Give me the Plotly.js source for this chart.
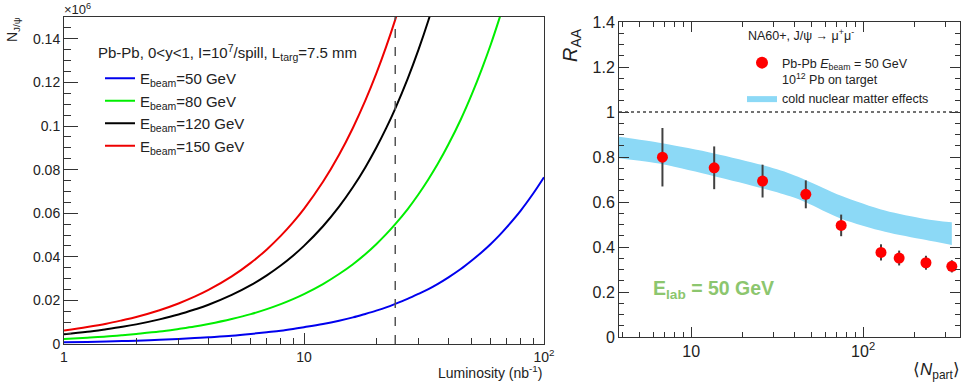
<!DOCTYPE html>
<html>
<head>
<meta charset="utf-8">
<script src="https://cdn.plot.ly/plotly-3.0.1.min.js"></script>
<style>html,body{margin:0;padding:0;background:#fff;}#chart{width:962px;height:387px;}</style>
</head>
<body>
<div id="chart"></div>
<script>
// ---------- Left panel data: N(J/psi) vs luminosity ----------
const lumi50  = [1,1.25,1.5,1.75,2,2.5,3,3.5,4,5,6,7,8,9,10,12,14,16,18,20,22,24,27,30,33,36,40,45,50,55,60,65,70,80,90,100];
const njpsi50 = [0.00077,0.00096,0.00115,0.00134,0.00153,0.0019,0.0023,0.0027,0.0031,0.0038,0.0046,0.0054,0.0061,0.0069,0.0077,0.0092,0.0107,0.0122,0.0138,0.0153,0.0168,0.0184,0.0207,0.023,0.0252,0.0275,0.0306,0.0344,0.0383,0.0421,0.0459,0.0497,0.0536,0.0612,0.0689,0.0765];
const lumi80  = [1,1.25,1.5,1.75,2,2.5,3,3.5,4,5,6,7,8,9,10,12,14,16,18,20,22,24,27,30,33,36,40,45,50,55,60,65,70];
const njpsi80 = [0.0023,0.0029,0.0034,0.004,0.0046,0.0057,0.0069,0.008,0.0092,0.0115,0.0137,0.016,0.0183,0.0206,0.0229,0.0275,0.0321,0.0366,0.0412,0.0458,0.0504,0.055,0.0618,0.0687,0.0756,0.0824,0.0916,0.103,0.1145,0.126,0.1374,0.1489,0.1603];
const lumi120  = [1,1.25,1.5,1.75,2,2.5,3,3.5,4,5,6,7,8,9,10,12,14,16,18,20,22,24,27,30,33,36];
const njpsi120 = [0.0045,0.0056,0.0068,0.0079,0.009,0.0113,0.0135,0.0158,0.018,0.0225,0.027,0.0315,0.036,0.0405,0.045,0.054,0.063,0.072,0.081,0.09,0.099,0.108,0.1215,0.135,0.1485,0.162];
const lumi150  = [1,1.25,1.5,1.75,2,2.5,3,3.5,4,5,6,7,8,9,10,12,14,16,18,20,22,24,27];
const njpsi150 = [0.0062,0.0078,0.0093,0.0109,0.0124,0.0155,0.0186,0.0217,0.0248,0.031,0.0372,0.0434,0.0496,0.0558,0.062,0.0744,0.0868,0.0992,0.1116,0.124,0.1364,0.1488,0.1674];
const beamNames = ['E<sub>beam</sub>=50 GeV','E<sub>beam</sub>=80 GeV','E<sub>beam</sub>=120 GeV','E<sub>beam</sub>=150 GeV'];
const leftHeader = 'Pb-Pb, 0&lt;y&lt;1, I=10<sup>7</sup>/spill, L<sub>targ</sub>=7.5 mm';
const refLumi = 24;
const leftXTickVals = [1,10,100];
const leftXTickText = ['1','10','10<sup>2</sup>'];
const leftXMinorVals = [2,3,4,5,6,7,8,9,20,30,40,50,60,70,80,90];

// ---------- Right panel data: R_AA vs Npart ----------
const npart   = [6.8,13.6,26,46.4,74.5,127,162,232,328];
const raa     = [0.799,0.752,0.693,0.634,0.496,0.376,0.351,0.330,0.314];
const raaErr  = [0.13,0.095,0.073,0.062,0.048,0.036,0.033,0.031,0.027];
const bandN     = [3.8,6.8,13.6,26,37.6,46.6,74.5,134,229,328];
const bandUpper = [0.89,0.861,0.816,0.764,0.726,0.697,0.628,0.562,0.525,0.51];
const bandLower = [0.794,0.768,0.715,0.661,0.625,0.598,0.526,0.468,0.432,0.409];
const rightHeader = 'NA60+, J/ψ → μ<sup>+</sup>μ<sup>-</sup>';
const pointsName = 'Pb-Pb <i>E</i><sub>beam</sub> = 50 GeV<br>10<sup>12</sup> Pb on target';
const bandName = 'cold nuclear matter effects';
const unityLevel = 1;
const rightXTickVals = [10,100];
const rightXTickText = ['10','10<sup>2</sup>'];
const rightXMinorVals = [4,5,6,7,8,9,20,30,40,50,60,70,80,90,200,300];

const W = 962, H = 387;
const px = v => v / W;
const py = v => 1 - v / H;
const FONT = 'Liberation Sans, Arial, Helvetica, sans-serif';

const curveColors = ['#0000ee','#00ee00','#000000','#ee0000'];
const lumiSets = [lumi50, lumi80, lumi120, lumi150];
const nSets = [njpsi50, njpsi80, njpsi120, njpsi150];

const traces = [];
for (let i = 0; i < 4; i++) {
  traces.push({
    x: lumiSets[i], y: nSets[i], xaxis: 'x', yaxis: 'y', type: 'scatter', mode: 'lines',
    line: {color: curveColors[i], width: 2, shape: 'spline'}, name: beamNames[i], legend: 'legend'
  });
}
traces.push({
  x: [refLumi, refLumi], y: [0, 0.15], xaxis: 'x', yaxis: 'y', mode: 'lines',
  line: {color: '#555', width: 1.5, dash: 'dash'}, showlegend: false, hoverinfo: 'skip'
});

// right panel
traces.push({x: [null], y: [null], xaxis: 'x2', yaxis: 'y2', mode: 'markers', marker: {color: '#ff0000', size: 10},
  name: pointsName, legend: 'legend2'});
traces.push({x: bandN, y: bandLower, xaxis: 'x2', yaxis: 'y2', mode: 'lines', line: {width: 0, color: '#8cd9f6', shape: 'spline', smoothing: 0.8}, showlegend: false, hoverinfo: 'skip'});
traces.push({x: bandN, y: bandUpper, xaxis: 'x2', yaxis: 'y2', mode: 'lines', fill: 'tonexty', fillcolor: '#8cd9f6', line: {width: 0, color: '#8cd9f6', shape: 'spline', smoothing: 0.8}, name: bandName, legend: 'legend2'});
traces.push({x: npart, y: raa, xaxis: 'x2', yaxis: 'y2', mode: 'markers', marker: {color: '#ff0000', size: 11},
  error_y: {type: 'data', array: raaErr, visible: true, thickness: 2, width: 0, color: '#404040'}, showlegend: false});

const axCommon = {showgrid: false, zeroline: false, showline: true, linecolor: '#333', linewidth: 1, ticks: 'inside', tickcolor: '#333', tickfont: {family: FONT, size: 14, color: '#222'}};

const layout = {
  width: W, height: H, margin: {l: 0, r: 0, t: 0, b: 0}, paper_bgcolor: '#fff', plot_bgcolor: '#fff',
  font: {family: FONT, color: '#222'},
  xaxis: Object.assign({}, axCommon, {domain: [px(64), px(544)], anchor: 'y', type: 'log', range: [0, 2], tickmode: 'array', tickvals: leftXTickVals, ticktext: leftXTickText, ticklen: 11, mirror: true,
    minor: {tickmode: 'array', tickvals: leftXMinorVals, ticks: 'inside', ticklen: 6, tickcolor: '#333'}}),
  yaxis: Object.assign({}, axCommon, {domain: [1 - 344/H, 1 - 17/H], anchor: 'x', range: [0, 0.15], dtick: 0.02, tick0: 0, ticklen: 14, mirror: true,
    minor: {dtick: 0.005, ticks: 'inside', ticklen: 7, tickcolor: '#333'}}),
  xaxis2: Object.assign({}, axCommon, {domain: [px(619), px(960)], anchor: 'y2', type: 'log', range: [Math.log10(3.8), Math.log10(366)], tickmode: 'array', tickvals: rightXTickVals, ticktext: rightXTickText, ticklen: 10, mirror: 'allticks', tickfont: {family: FONT, size: 16, color: '#222'},
    minor: {tickmode: 'array', tickvals: rightXMinorVals, ticks: 'inside', ticklen: 5, tickcolor: '#333'}}),
  yaxis2: Object.assign({}, axCommon, {domain: [1 - 337/H, 1 - 22/H], anchor: 'x2', range: [0, 1.4], dtick: 0.2, tick0: 0, ticklen: 10, mirror: 'allticks', tickfont: {family: FONT, size: 16, color: '#222'},
    minor: {dtick: 0.05, ticks: 'inside', ticklen: 5, tickcolor: '#333'}}),
  legend: {x: px(100), y: py(62), xanchor: 'left', yanchor: 'top', bgcolor: 'rgba(0,0,0,0)', borderwidth: 0,
    font: {family: FONT, size: 15, color: '#222'}, tracegroupgap: 0},
  legend2: {x: px(742), y: py(48), xanchor: 'left', yanchor: 'top', bgcolor: 'rgba(0,0,0,0)', borderwidth: 0, valign: 'top', itemsizing: 'constant', traceorder: 'normal',
    font: {family: FONT, size: 12.5, color: '#222'}, tracegroupgap: 0},
  shapes: [
    {type: 'line', xref: 'x2 domain', x0: 0, x1: 1, yref: 'y2', y0: unityLevel, y1: unityLevel, line: {color: '#444', width: 1.5, dash: 'dot'}}
  ],
  annotations: [
    {text: leftHeader, xref: 'paper', yref: 'paper', x: px(96), y: py(53), xanchor: 'left', yanchor: 'middle', showarrow: false, font: {family: FONT, size: 15, color: '#222'}},
    {text: rightHeader, xref: 'paper', yref: 'paper', x: px(746), y: py(35), xanchor: 'left', yanchor: 'middle', showarrow: false, font: {family: FONT, size: 12.5, color: '#222'}},
    {text: '×10<sup>6</sup>', xref: 'paper', yref: 'paper', x: px(62), y: py(9), xanchor: 'left', yanchor: 'middle', showarrow: false, font: {family: FONT, size: 13, color: '#222'}},
    {text: 'N<sub>J/ψ</sub>', xref: 'paper', yref: 'paper', x: px(13), y: py(30), xanchor: 'center', yanchor: 'middle', textangle: -90, showarrow: false, font: {family: FONT, size: 14, color: '#222'}},
    {text: 'Luminosity (nb<sup>-1</sup>)', xref: 'paper', yref: 'paper', x: px(544), y: py(372), xanchor: 'right', yanchor: 'middle', showarrow: false, font: {family: FONT, size: 14, color: '#222'}},
    {text: '<i>R</i><sub>AA</sub>', xref: 'paper', yref: 'paper', x: px(572), y: py(45), xanchor: 'center', yanchor: 'middle', textangle: -90, showarrow: false, font: {family: FONT, size: 20, color: '#222'}},
    {text: '⟨<i>N</i><sub>part</sub>⟩', xref: 'paper', yref: 'paper', x: px(962), y: py(371), xanchor: 'right', yanchor: 'middle', showarrow: false, font: {family: FONT, size: 17, color: '#222'}},
    {text: '<b>E<sub>lab</sub> = 50 GeV</b>', xref: 'paper', yref: 'paper', x: px(651), y: py(289), xanchor: 'left', yanchor: 'middle', showarrow: false, font: {family: FONT, size: 19.5, color: '#8cc66e'}}
  ]
};

Plotly.newPlot('chart', traces, layout, {displayModeBar: false, staticPlot: true});
</script>
</body>
</html>
